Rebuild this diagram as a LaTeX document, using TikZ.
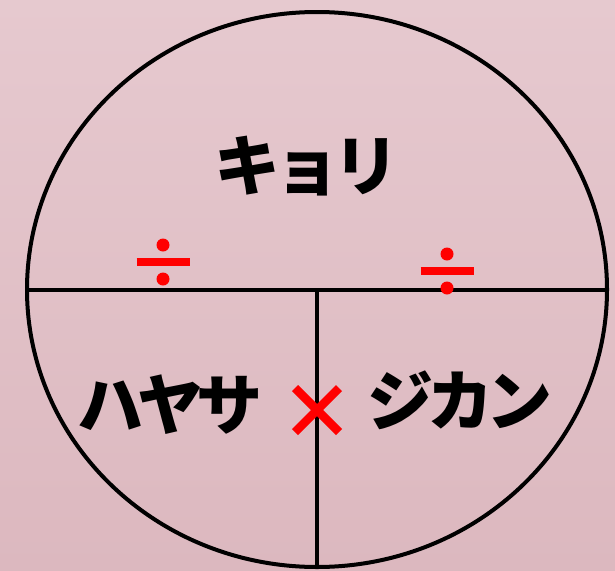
\documentclass[tikz,border=0pt]{standalone}
\usepackage{fontspec}
\usetikzlibrary{calc}
\newfontfamily\jp{Noto Sans CJK JP}[LetterSpace=-10]
\definecolor{bgtop}{RGB}{230,201,207}
\definecolor{bgbot}{RGB}{220,184,191}
\definecolor{opred}{RGB}{255,0,0}
\tikzset{
  lbl/.style={font=\jp\bfseries\fontsize{66}{66}\selectfont, inner sep=0pt},
  ring/.style={draw=black, line width=4pt},
  divline/.style={draw=black, line width=4pt},
  opbar/.style={draw=opred, line width=8pt},
  opdot/.style={fill=opred},
}
\begin{document}
\begin{tikzpicture}[x=1pt,y=-1pt]
\shade[top color=bgtop, bottom color=bgbot] (0,0) rectangle (615,570);
\useasboundingbox (0,0) rectangle (615,570);
% circle
\draw[ring] (317,289.5) ellipse [x radius=290, y radius=277.5];
\coordinate (L) at (27,289.5);
\coordinate (R) at (607,289.5);
\coordinate (M) at (317,289.5);
\coordinate (B) at (317,567);
\draw[divline] (L) -- (R);
\draw[divline] (M) -- (B);
% labels
\node[lbl] (kyori) at (307,166) {キョリ};
\node[lbl] (hayasa) at (170,405) {ハヤサ};
\node[lbl] (jikan) at (460,400) {ジカン};
% divide signs
\coordinate (d1) at (163,262);
\draw[opbar] ($(d1)+(-26.5,0)$) -- ($(d1)+(26.5,0)$);
\fill[opdot] ($(d1)+(0,-17)$) circle (6.5);
\fill[opdot] ($(d1)+(0,17)$) circle (6.5);
\coordinate (d2) at (447,271);
\draw[opbar] ($(d2)+(-26.5,0)$) -- ($(d2)+(26.5,0)$);
\fill[opdot] ($(d2)+(0,-17)$) circle (6.5);
\fill[opdot] ($(d2)+(0,17)$) circle (6.5);
% times sign
\coordinate (t) at (317,410);
\draw[draw=opred, line width=8.5pt] ($(t)+(-22,-22)$) -- ($(t)+(22,22)$);
\draw[draw=opred, line width=8.5pt] ($(t)+(-22,22)$) -- ($(t)+(22,-22)$);
\end{tikzpicture}
\end{document}
